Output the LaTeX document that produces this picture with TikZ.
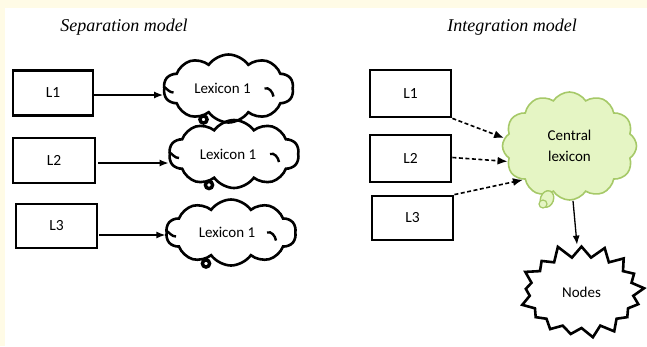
\documentclass[tikz,border=0pt]{standalone}
\usepackage{fontspec}
\setmainfont{Carlito}
\newfontfamily\titlefont{Liberation Serif}
\usetikzlibrary{shapes.symbols,arrows.meta}
\definecolor{cream}{RGB}{255,251,230}
\definecolor{leaf}{RGB}{229,245,196}
\definecolor{leafedge}{RGB}{166,201,104}
\tikzset{
  title/.style={font=\titlefont\itshape\fontsize{18}{21}\selectfont},
  lbox/.style={draw,line width=2.8pt,minimum width=80pt,minimum height=45pt,inner sep=0pt,
    font=\fontsize{15.5}{18}\selectfont},
  lexcloud/.style={cloud,cloud puffs=10,cloud puff arc=110,cloud ignores aspect,draw,
    line width=2.6pt,minimum width=130pt,minimum height=68pt,inner sep=0pt,
    font=\fontsize{15}{18}\selectfont},
  centralcloud/.style={cloud,cloud puffs=12,cloud puff arc=115,cloud ignores aspect,
    draw=leafedge,fill=leaf,line width=1.6pt,minimum width=134pt,minimum height=108pt,inner sep=0pt,
    align=center,font=\fontsize{15}{21}\selectfont},
  burst/.style={starburst,starburst points=17,starburst point height=14pt,random starburst=11,
    draw,line width=2.6pt,minimum width=132pt,minimum height=99pt,inner sep=0pt,
    font=\fontsize{15}{18}\selectfont},
  tailring/.style={line width=3.4pt},
  crease/.style={line width=2.4pt},
  solidarrow/.style={line width=1.3pt,-{Latex[length=9pt,width=7pt]}},
  dasharrow/.style={line width=1.6pt,dash pattern=on 4pt off 2.5pt,-{Latex[length=10pt,width=8pt]}}
}
\begin{document}
\begin{tikzpicture}[x=1pt,y=-1pt]
  % page with a cream strip along the top and left edges
  \useasboundingbox (0,0) rectangle (647,346);
  \fill[cream] (0,0) rectangle (647,346);
  \fill[white] (5,8) rectangle (647,346);

  % titles
  \node[title] (t1) at (124,27) {Separation model};
  \node[title] (t2) at (512,27) {Integration model};

  % separation model: one lexicon per language
  \node[lbox] (a1) at (53,93) {L1};
  \node[lbox,minimum width=82pt] (a2) at (54,160.5) {L2};
  \node[lbox,minimum width=81pt,minimum height=44pt] (a3) at (56.5,226) {L3};

  \node[lexcloud] (c1) at (228.5,88.5) {Lexicon 1\hspace*{12pt}};
  \node[lexcloud] (c2) at (234,154) {Lexicon 1\hspace*{12pt}};
  \node[lexcloud,minimum height=66pt] (c3) at (231,232.5) {Lexicon 1\hspace*{8pt}};

  \foreach \c in {c1,c2,c3}{
    \draw[tailring] ([shift={(-25,31)}]\c.center) circle[radius=3.6pt];
    \draw[crease] ([shift={(-65,-2)}]\c.center) to[out=-30,in=180] ([shift={(-55,4)}]\c.center);
    \draw[crease] ([shift={(36,0)}]\c.center) to[out=20,in=100] ([shift={(45,8)}]\c.center);
  }

  \draw[solidarrow] ([yshift=-2pt]a1.east) -- ([yshift=-2pt]a1.east -| c1.west);
  \draw[solidarrow] ([xshift=2pt,yshift=-2.5pt]a2.east) -- ([yshift=-2.5pt]a2.east -| c2.west);
  \draw[solidarrow] ([xshift=1pt,yshift=-9pt]a3.east) -- ([yshift=-9pt]a3.east -| c3.west);

  % integration model: one shared lexicon
  \node[lbox,minimum width=81pt,minimum height=47pt] (b1) at (410.5,93.5) {L1};
  \node[lbox,minimum width=81pt,minimum height=47pt] (b2) at (410.5,158.5) {L2};
  \node[lbox,minimum width=81pt,minimum height=44pt] (b3) at (412.5,218) {L3};

  \node[centralcloud] (cl) at (569.5,146) {Central\\lexicon};
  \draw[leafedge,fill=leaf,line width=1.4pt,rotate around={-20:(547,199)}]
    (547,199) ellipse[x radius=6.5pt,y radius=8.5pt];
  \draw[leafedge,fill=leaf,line width=1.2pt] (543,204) circle[radius=4pt];

  \draw[dasharrow] (b1.south east) -- (cl.173);
  \draw[dasharrow] ([yshift=1pt]b2.east) -- (cl.194);
  \draw[dasharrow] (b3.north east) -- (cl.216);

  \node[burst] (nd) at (581.5,292.5) {Nodes};
  \draw[solidarrow] ([xshift=3.5pt]cl.south) -- ([xshift=-4.5pt]nd.north);
\end{tikzpicture}
\end{document}
